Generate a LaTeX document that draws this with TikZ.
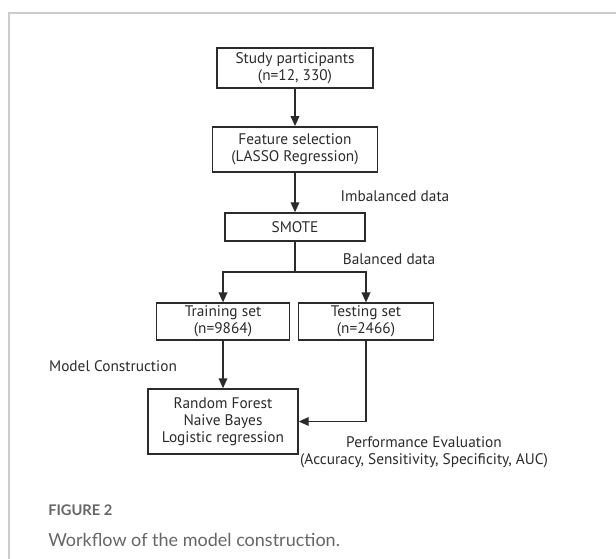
\documentclass[tikz,border=0pt]{standalone}
\usepackage{fontspec}
\setmainfont{PT Sans}
\newfontfamily\capfont{Lato}
\usetikzlibrary{arrows.meta}
\definecolor{framegray}{HTML}{CCCCCC}
\definecolor{capgray}{HTML}{666666}
\definecolor{ink}{HTML}{2B2B2B}
\begin{document}
\begin{tikzpicture}[x=0.75pt,y=-0.75pt,
  every node/.style={font=\fontsize{11.5}{12.8}\selectfont,text=ink},
  box/.style={draw=ink,line width=1.1pt,align=center,inner sep=1pt},
  arr/.style={draw=ink,line width=1.1pt,-{Triangle[length=7.5pt,width=6.5pt]}},
  lnk/.style={draw=ink,line width=1.1pt}]
  \useasboundingbox (0,0) rectangle (616,559);
  \draw [framegray,line width=1.5pt] (9,559) -- (9,13) -- (616,13);
  % boxes
  \node [box,minimum width=117pt,minimum height=30pt] (study) at (295,68) {Study participants\\(n=12, 330)};
  \node [box,minimum width=124pt,minimum height=34pt] (feature) at (295,149.5) {Feature selection\\(LASSO Regression)};
  \node [box,minimum width=105pt,minimum height=21pt] (smote) at (295,227) {SMOTE};
  \node [box,minimum width=100pt,minimum height=27.5pt,inner sep=2pt] (train) at (223,321.5) {Training set\\(n=9864)};
  \node [box,minimum width=101pt,minimum height=27.5pt,inner sep=2pt] (test) at (366,321.5) {Testing set\\(n=2466)};
  \node [box,minimum width=112.5pt,minimum height=48.75pt] (model) at (223,421.5) {Random Forest\\Naive Bayes\\Logistic regression};
  \coordinate (split) at (295,272);
  % connectors
  \draw [arr] (study) -- (feature);
  \draw [arr] (feature) -- (smote);
  \draw [lnk] (smote) -- (split);
  \draw [arr] (split) -| (train);
  \draw [arr] (split) -| (test);
  \draw [arr] (train) -- (model);
  \draw [arr] (test) |- (model);
  % labels
  \node (imb) at (395,196) {Imbalanced data};
  \node (bal) at (389,259) {Balanced data};
  \node (cons) at (113,366) {Model Construction};
  \node [align=center] (perf) at (424,452) {Performance Evaluation\\(Accuracy, Sensitivity, Specificity, AUC)};
  % caption
  \node [anchor=west,inner sep=0pt,text=capgray,font=\capfont\bfseries\fontsize{11}{13}\selectfont] (fig) at (48,510) {FIGURE 2};
  \node [anchor=west,inner sep=0pt,text=capgray,font=\capfont\fontsize{13.5}{16}\selectfont] (cap) at (48,540) {Workflow of the model construction.};
\end{tikzpicture}
\end{document}
